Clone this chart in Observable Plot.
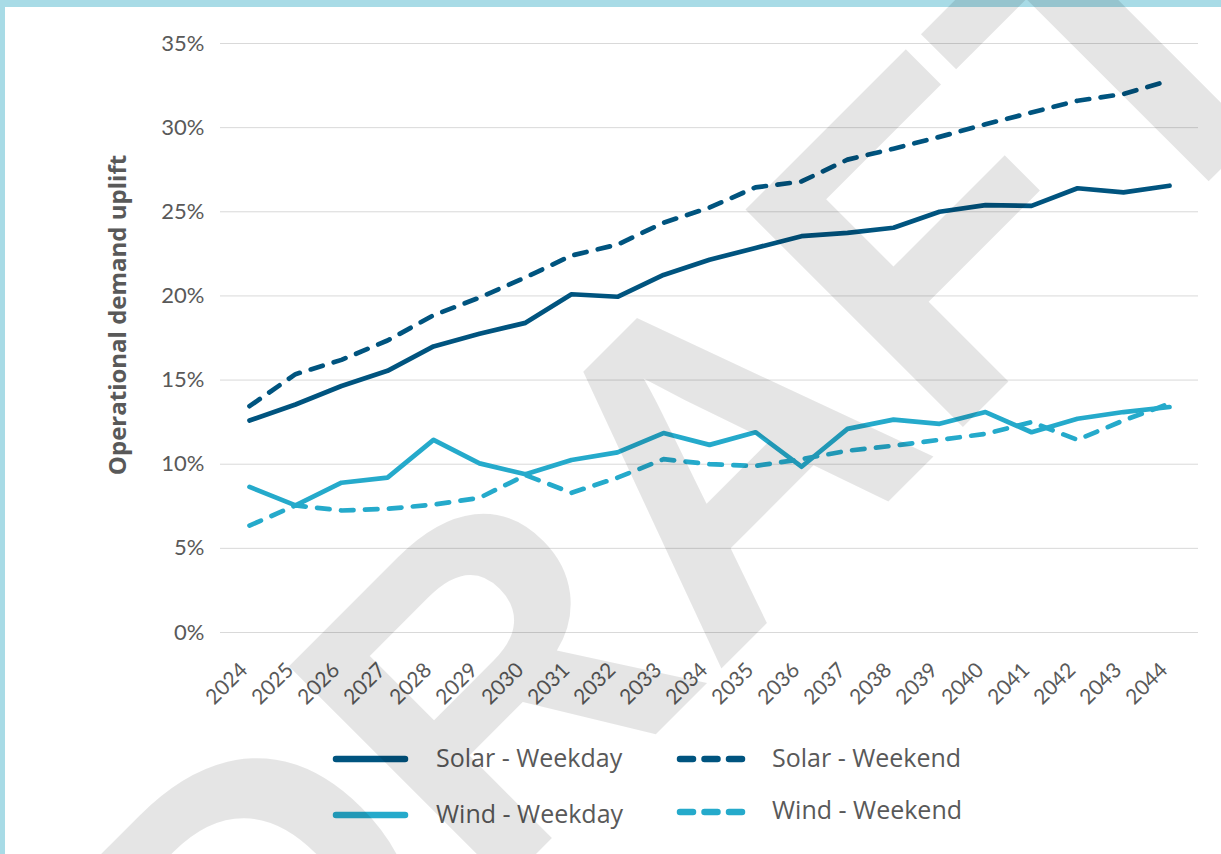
<!DOCTYPE html>
<html>
<head>
<meta charset="utf-8">
<script src="https://cdn.jsdelivr.net/npm/d3@7"></script>
<script src="https://cdn.jsdelivr.net/npm/@observablehq/plot@0.6"></script>
<style>
html,body{margin:0;padding:0;background:#fff;}
#page{position:relative;width:1221px;height:854px;overflow:hidden;background:#fff;}
#bt{position:absolute;left:0;top:0;width:1221px;height:7px;background:#a8dbe6;}
#bl{position:absolute;left:0;top:0;width:5px;height:854px;background:#a8dbe6;}
#chart{position:absolute;left:0;top:0;}
#ann,#wm{position:absolute;left:0;top:0;pointer-events:none;}
</style>
</head>
<body>
<div id="page">
  <div id="bt"></div>
  <div id="bl"></div>
  <div id="chart"></div>
  <svg id="ann" width="1221" height="854"></svg>
  <svg id="wm" width="1221" height="854"></svg>
</div>
<script>
// ---- data ----
const years = ["2024","2025","2026","2027","2028","2029","2030","2031","2032","2033","2034",
               "2035","2036","2037","2038","2039","2040","2041","2042","2043","2044"];
const solarWeekday = [12.6, 13.55, 14.65, 15.55, 17.0, 17.75, 18.4, 20.1, 19.95, 21.25, 22.15,
                      22.85, 23.55, 23.75, 24.05, 25.0, 25.4, 25.35, 26.4, 26.15, 26.55];
const solarWeekend = [13.45, 15.35, 16.2, 17.35, 18.85, 19.9, 21.1, 22.4, 23.05, 24.35, 25.25,
                      26.45, 26.8, 28.1, 28.75, 29.45, 30.2, 30.9, 31.6, 32.0, 32.8];
const windWeekday  = [8.65, 7.55, 8.9, 9.2, 11.45, 10.05, 9.4, 10.25, 10.7, 11.85, 11.15,
                      11.9, 9.85, 12.1, 12.65, 12.4, 13.1, 11.9, 12.7, 13.1, 13.4];
const windWeekend  = [6.35, 7.55, 7.25, 7.35, 7.6, 8.0, 9.35, 8.3, 9.2, 10.3, 10.0,
                      9.9, 10.3, 10.8, 11.1, 11.45, 11.8, 12.5, 11.45, 12.6, 13.6];
const seriesNames = ["Solar - Weekday", "Solar - Weekend", "Wind - Weekday", "Wind - Weekend"];
const yTicks = [0, 5, 10, 15, 20, 25, 30, 35];
const yLabel = "Operational demand uplift";
const watermark = "DRAFT";

// ---- styles ----
const SOLAR = "#00547f", WIND = "#25aacb", TEXT = "#595959";
const styles = {
  "Solar - Weekday": {stroke: SOLAR, dash: null},
  "Solar - Weekend": {stroke: SOLAR, dash: "12.5,11.5"},
  "Wind - Weekday":  {stroke: WIND,  dash: null},
  "Wind - Weekend":  {stroke: WIND,  dash: "12.5,11.5"}
};

const seriesValues = [solarWeekday, solarWeekend, windWeekday, windWeekend];
const rows = [];
seriesNames.forEach((s, k) => years.forEach((yr, i) => rows.push({series: s, year: yr, value: seriesValues[k][i]})));

const lineMarks = seriesNames.slice().reverse().map(s => Plot.line(rows.filter(r => r.series === s), {
  x: "year", y: "value", stroke: styles[s].stroke, strokeWidth: 4.7,
  strokeLinecap: "round", strokeLinejoin: "round",
  ...(styles[s].dash ? {strokeDasharray: styles[s].dash} : {})
}));

const chart = Plot.plot({
  width: 1221, height: 720,
  marginLeft: 220, marginRight: 23, marginTop: 43, marginBottom: 88,
  style: {fontFamily: "Lato, sans-serif", fontSize: "22px", color: TEXT, background: "transparent"},
  x: {type: "point", domain: years, padding: 0.5, axis: null},
  y: {domain: [0, 35], axis: null},
  marks: [
    Plot.gridY(yTicks, {stroke: "#d9d9d9", strokeOpacity: 1, strokeWidth: 1}),
    Plot.axisY(yTicks, {tickSize: 0, tickPadding: 16, tickFormat: d => d + "%", fontSize: 22, fill: TEXT, label: null}),
    Plot.text(years, {x: d => d, frameAnchor: "bottom", rotate: -45, textAnchor: "end", lineAnchor: "middle",
                      dx: -5.5, dy: 34, fontSize: 21, fill: TEXT}),
    ...lineMarks
  ]
});
document.getElementById("chart").appendChild(chart);

// ---- legend & y label ----
const ann = d3.select("#ann");
ann.append("text")
  .attr("transform", "translate(116,315) rotate(-90)")
  .attr("text-anchor", "middle").attr("dominant-baseline", "central")
  .attr("font-family", "'Open Sans', sans-serif").attr("font-weight", "bold")
  .attr("font-size", 24).attr("fill", TEXT).text(yLabel);

const legendPos = [
  {lx: 336, ly: 759, tx: 436, ty: 757},
  {lx: 680, ly: 759, tx: 772, ty: 757},
  {lx: 336, ly: 815, tx: 436, ty: 813},
  {lx: 680, ly: 812, tx: 772, ty: 809}
];
seriesNames.forEach((s, k) => {
  const p = legendPos[k];
  const st = styles[s];
  const len = st.dash ? 62 : 69;
  ann.append("line").attr("x1", p.lx).attr("x2", p.lx + len).attr("y1", p.ly).attr("y2", p.ly)
    .attr("stroke", st.stroke).attr("stroke-width", 6.5).attr("stroke-linecap", "round")
    .attr("stroke-dasharray", st.dash ? "13,11.5" : null);
  ann.append("text").attr("x", p.tx).attr("y", p.ty).attr("dominant-baseline", "central")
    .attr("font-family", "'Open Sans', sans-serif").attr("font-size", 25).attr("fill", TEXT).text(s);
});

// ---- watermark ----
d3.select("#wm").append("text")
  .attr("transform", "translate(257,1133) rotate(-45)")
  .attr("font-family", "'Liberation Sans', Arial, sans-serif").attr("font-weight", "bold")
  .attr("font-size", 447).attr("fill", "#000").attr("fill-opacity", 0.1).text(watermark);
</script>
</body>
</html>
